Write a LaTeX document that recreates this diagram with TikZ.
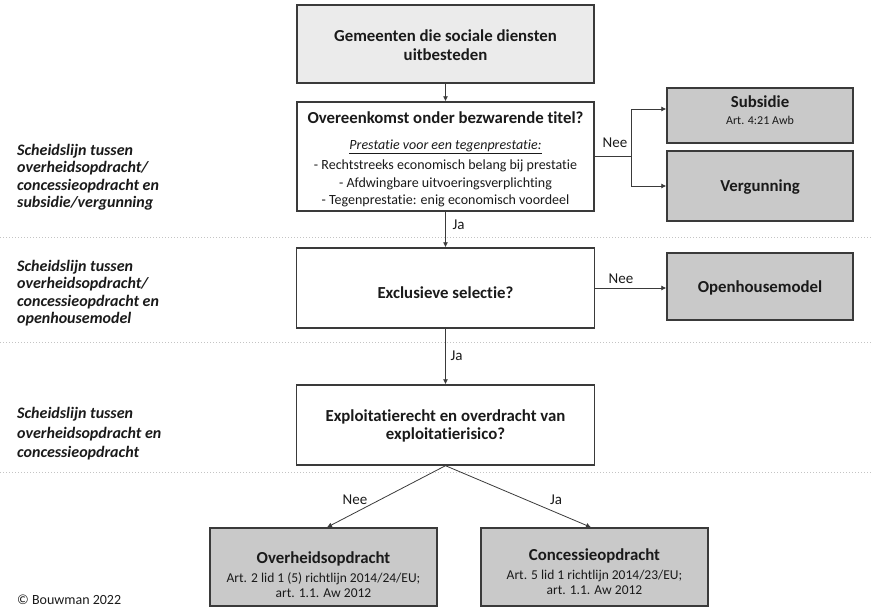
\documentclass[tikz,border=0pt]{standalone}
\usepackage{fontspec}
\setmainfont{Carlito}[Ligatures=NoCommon]
\usetikzlibrary{arrows.meta,calc}
\definecolor{edge}{HTML}{3A3A3A}
\definecolor{fillA}{HTML}{EBEBEB}
\definecolor{fillB}{HTML}{C9C9C9}
\definecolor{sepc}{HTML}{C4C4C4}
\definecolor{txtc}{HTML}{1A1A1A}
\begin{document}
\begin{tikzpicture}[x=1pt,y=-1pt,
  boxw/.style={draw=edge, line width=1.4pt, fill=white, inner sep=0pt},
  boxg/.style={draw=edge, line width=1.4pt, fill=fillB, inner sep=0pt},
  boxl/.style={draw=edge, line width=1.4pt, fill=fillA, inner sep=0pt},
  txt/.style={align=center, inner sep=0pt, text=txtc},
  side/.style={align=left, anchor=west, inner sep=0pt, text=txtc,
    font=\bfseries\itshape\fontsize{16}{17.5}\selectfont},
  lbl/.style={inner sep=0pt, text=txtc, font=\fontsize{15}{16}\selectfont},
  arr/.style={draw=edge, line width=0.8pt, -{Latex[length=5pt,width=5pt]}},
  sepline/.style={draw=sepc, line width=1pt, dotted}
]
\useasboundingbox (0,0) rectangle (871,609);

% separators
\draw[sepline] (0,237.5) -- (871,237.5);
\draw[sepline] (0,343) -- (871,343);
\draw[sepline] (0,472.5) -- (871,472.5);

% boxes
\node[boxl, minimum width=297pt, minimum height=78pt] (b1) at (445.5,44) {};
\node[txt, font=\bfseries\fontsize{16.8}{19}\selectfont] (b1t) at (445.5,45.5) {Gemeenten die sociale diensten\\uitbesteden};

\node[boxw, minimum width=297pt, minimum height=109pt] (b2) at (445.5,156.5) {};
\node[txt, font=\fontsize{14}{17.5}\selectfont] (b2t) at (445.5,159.5) {{\bfseries\fontsize{16.8}{18}\selectfont Overeenkomst onder bezwarende titel?}\\[8.5pt]
  \underline{\textit{Prestatie voor een tegenprestatie:}}\\[2.5pt]
  - Rechtstreeks economisch belang bij prestatie\\
  - Afdwingbare uitvoeringsverplichting\\
  - Tegenprestatie: enig economisch voordeel};

\node[boxg, minimum width=186pt, minimum height=55pt] (sub) at (760,115.5) {};
\node[txt, font=\fontsize{12}{16.5}\selectfont] (subt) at (760,110) {{\bfseries\fontsize{16.8}{18}\selectfont Subsidie}\\Art. 4:21 Awb};

\node[boxg, minimum width=186pt, minimum height=70pt] (verg) at (760,186) {};
\node[txt, font=\bfseries\fontsize{16.8}{18}\selectfont] (vergt) at (760,187) {Vergunning};

\node[boxw, minimum width=298pt, minimum height=80pt] (b3) at (445.5,288) {};
\node[txt, font=\bfseries\fontsize{16.8}{18}\selectfont] (b3t) at (445.5,292.5) {Exclusieve selectie?};

\node[boxg, minimum width=186pt, minimum height=67pt] (open) at (760,286.5) {};
\node[txt, font=\bfseries\fontsize{16.8}{18}\selectfont] (opent) at (760,288) {Openhousemodel};

\node[boxw, minimum width=298pt, minimum height=80pt] (b4) at (445.5,425) {};
\node[txt, font=\bfseries\fontsize{16.8}{18.5}\selectfont] (b4t) at (445.5,426) {Exploitatierecht en overdracht van\\exploitatierisico?};

\node[boxg, minimum width=227pt, minimum height=78pt] (ov) at (323.5,567) {};
\node[txt, font=\fontsize{13.5}{15.5}\selectfont] (ovt) at (323.5,575) {{\bfseries\fontsize{16.8}{18}\selectfont Overheidsopdracht}\\[3pt]Art. 2 lid 1 (5) richtlijn 2014/24/EU;\\art. 1.1. Aw 2012};

\node[boxg, minimum width=227pt, minimum height=78pt] (con) at (594.5,567) {};
\node[txt, font=\fontsize{13.5}{15.5}\selectfont] (cont) at (594.5,572) {{\bfseries\fontsize{16.8}{18}\selectfont Concessieopdracht}\\[3pt]Art. 5 lid 1 richtlijn 2014/23/EU;\\art. 1.1. Aw 2012};

% side texts
\node[side] (s1) at (17,177) {Scheidslijn tussen\\overheidsopdracht/\\concessieopdracht en\\subsidie/vergunning};
\node[side] (s2) at (17,293) {Scheidslijn tussen\\overheidsopdracht/\\concessieopdracht en\\openhousemodel};
\node[side, font=\bfseries\itshape\fontsize{16}{19.5}\selectfont] (s3) at (17,434) {Scheidslijn tussen\\overheidsopdracht en\\concessieopdracht};

\node[anchor=west, inner sep=0pt, text=txtc, font=\fontsize{14}{16}\selectfont] (copy) at (17,600) {© Bouwman 2022};

% connectors
\draw[arr] (b1.south) -- (b2.north);
\coordinate (j1) at (631,156.5);
\draw[draw=edge, line width=0.8pt] (b2.east) -- (j1);
\draw[arr] (j1) |- ([yshift=6.5pt]sub.west);
\draw[arr] (j1) |- (verg.west);
\node[lbl] (nee1) at (615,143) {Nee};

\draw[arr] (b2.south) -- (b3.north);
\node[lbl] (ja1) at (458.5,225) {Ja};

\draw[arr] (b3.east) -- (open.west |- b3.east);
\node[lbl] (nee2) at (621,279) {Nee};

\draw[arr] (b3.south) -- (b4.north);
\node[lbl] (ja2) at (456.5,356) {Ja};

\draw[arr] (b4.south) -- ([xshift=3.5pt]ov.north);
\draw[arr] (b4.south) -- ([xshift=-3.5pt]con.north);
\node[lbl] (nee3) at (355,500) {Nee};
\node[lbl] (ja3) at (556,500) {Ja};
\end{tikzpicture}
\end{document}
